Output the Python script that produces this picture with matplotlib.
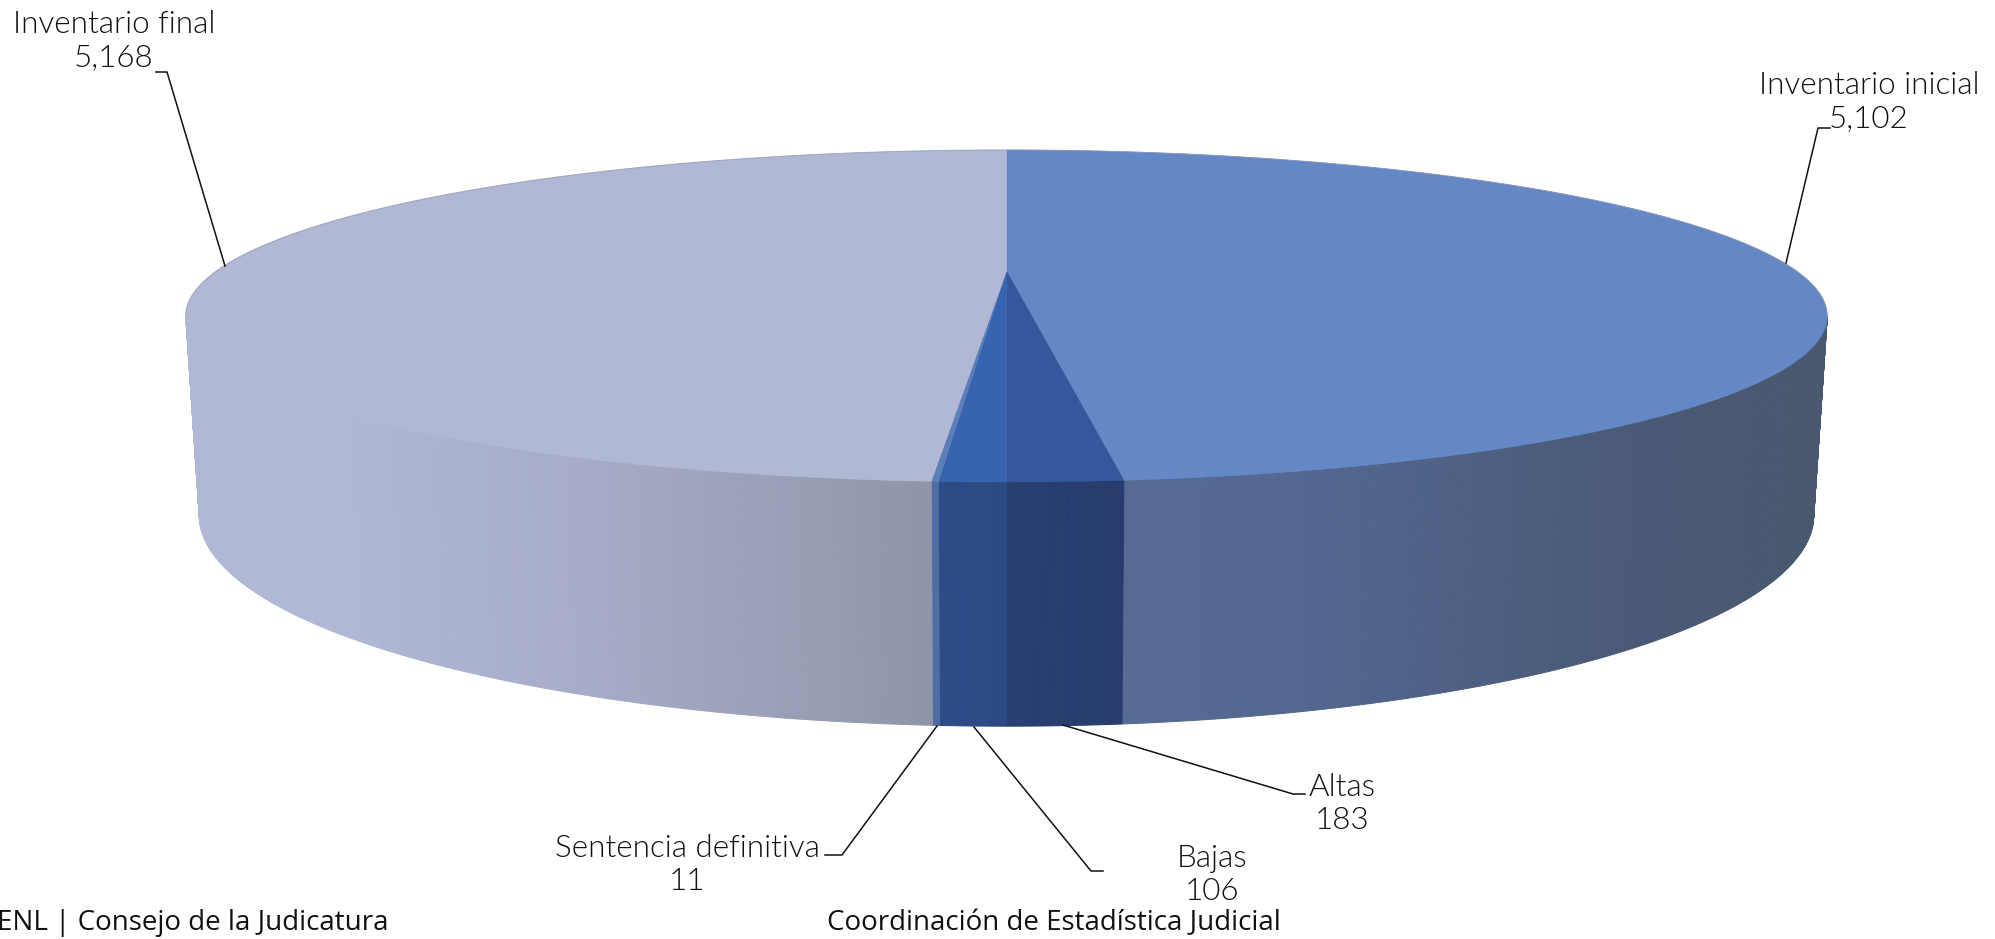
import numpy as np
from matplotlib import pyplot as plt
from matplotlib.colors import to_rgb

# datos de la grafica
categorias = ['Inventario inicial', 'Altas', 'Bajas', 'Sentencia definitiva', 'Inventario final']
valores = [5102, 183, 106, 11, 5168]

# colores: cara superior y degradado de la pared lateral (x en pixeles, color)
color_top = ['#6487c6', '#34589b', '#3664ae', '#5d7fb8', '#b0b8d4']
color_side = [
    [(1124, '#566b94'), (1330, '#52668f'), (1600, '#4a5a78'), (1800, '#48586f')],
    [(1007, '#283f72'), (1124, '#273c6c')],
    [(939, '#2c4c87'), (1007, '#2b4a83')],
    [(933, '#4f6da3'), (941, '#4f6da3')],
    [(340, '#b0b8d4'), (600, '#a5abc6'), (933, '#8f95a8')],
]

# geometria del pastel en perspectiva (pixeles)
CX = 1006.5
K = 0.271
TOP = dict(a=790, b=153.8, y0=271)
BOT = dict(a=777, b=195.5, y0=458)


def proyecta(theta, p):
    # theta en grados, sentido horario desde arriba
    t = np.radians(theta)
    u, v = np.sin(t), np.cos(t)
    d = 1 + K * v
    return CX + p['a'] * u / d, p['y0'] - p['b'] * v / d


def color_en(x, stops):
    xs = [s[0] for s in stops]
    rgb = np.array([to_rgb(s[1]) for s in stops])
    return tuple(np.interp(x, xs, rgb[:, i]) for i in range(3))


fig = plt.figure(figsize=(19.95, 9.39), dpi=100)
ax = fig.add_axes([0, 0, 1, 1])
ax.set_xlim(0, 1995)
ax.set_ylim(939, 0)
ax.axis('off')

angulos = np.concatenate([[0], np.cumsum(valores) / np.sum(valores) * 360])
lim1 = np.degrees(np.arccos(-K))
lim2 = 360 - lim1

# paredes laterales, por tiras angostas
for i in range(len(valores)):
    a0, a1 = max(angulos[i], lim1), min(angulos[i + 1], lim2)
    if a1 <= a0:
        continue
    n = max(2, int((a1 - a0) / 0.3))
    ts = np.linspace(a0, a1, n + 1)
    for t0, t1 in zip(ts[:-1], ts[1:]):
        xt, yt = proyecta(np.array([t0, t1]), TOP)
        xb, yb = proyecta(np.array([t1, t0]), BOT)
        c = color_en(xt.mean(), color_side[i])
        ax.fill(np.r_[xt, xb], np.r_[yt, yb], color=c, lw=0.7)

# cara superior
for i in range(len(valores)):
    ts = np.linspace(angulos[i], angulos[i + 1], 400)
    x, y = proyecta(ts, TOP)
    ax.fill(np.r_[CX, x], np.r_[TOP['y0'], y], color=color_top[i], lw=0.4)

# borde trasero grisaceo
ts = np.linspace(-lim1, lim1, 400)
x, y = proyecta(ts, TOP)
ax.plot(x, y, color='#8f97b0', lw=0.8, alpha=0.6)

# lineas guia
guias = [
    [(1830, 128), (1818, 128), (1786, 263)],
    [(1063, 725), (1293, 794), (1305, 794)],
    [(974, 727), (1091, 871), (1103, 871)],
    [(937, 726), (842, 855), (825, 855)],
    [(156, 72), (167, 72), (225, 266)],
]
for g in guias:
    ax.plot([p[0] for p in g], [p[1] for p in g], color='#111111', lw=1.1)

# etiquetas
pos_etiquetas = [(1869, 102), (1342, 804), (1212, 875), (687, 865), (114, 41)]
for nom, val, (x, y) in zip(categorias, valores, pos_etiquetas):
    ax.text(x, y, f'{nom}\n{val:,}', ha='center', va='center', fontsize=22.6,
            family='Lato', weight=300, color='#111111', linespacing=1.2)

# pie de pagina
ax.text(-3, 923, 'ENL | Consejo de la Judicatura', ha='left', va='center', fontsize=20,
        family='Open Sans', color='#111111')
ax.text(827, 923, 'Coordinación de Estadística Judicial', ha='left', va='center', fontsize=20,
        family='Open Sans', color='#111111')

plt.savefig('out.png', dpi=100)
